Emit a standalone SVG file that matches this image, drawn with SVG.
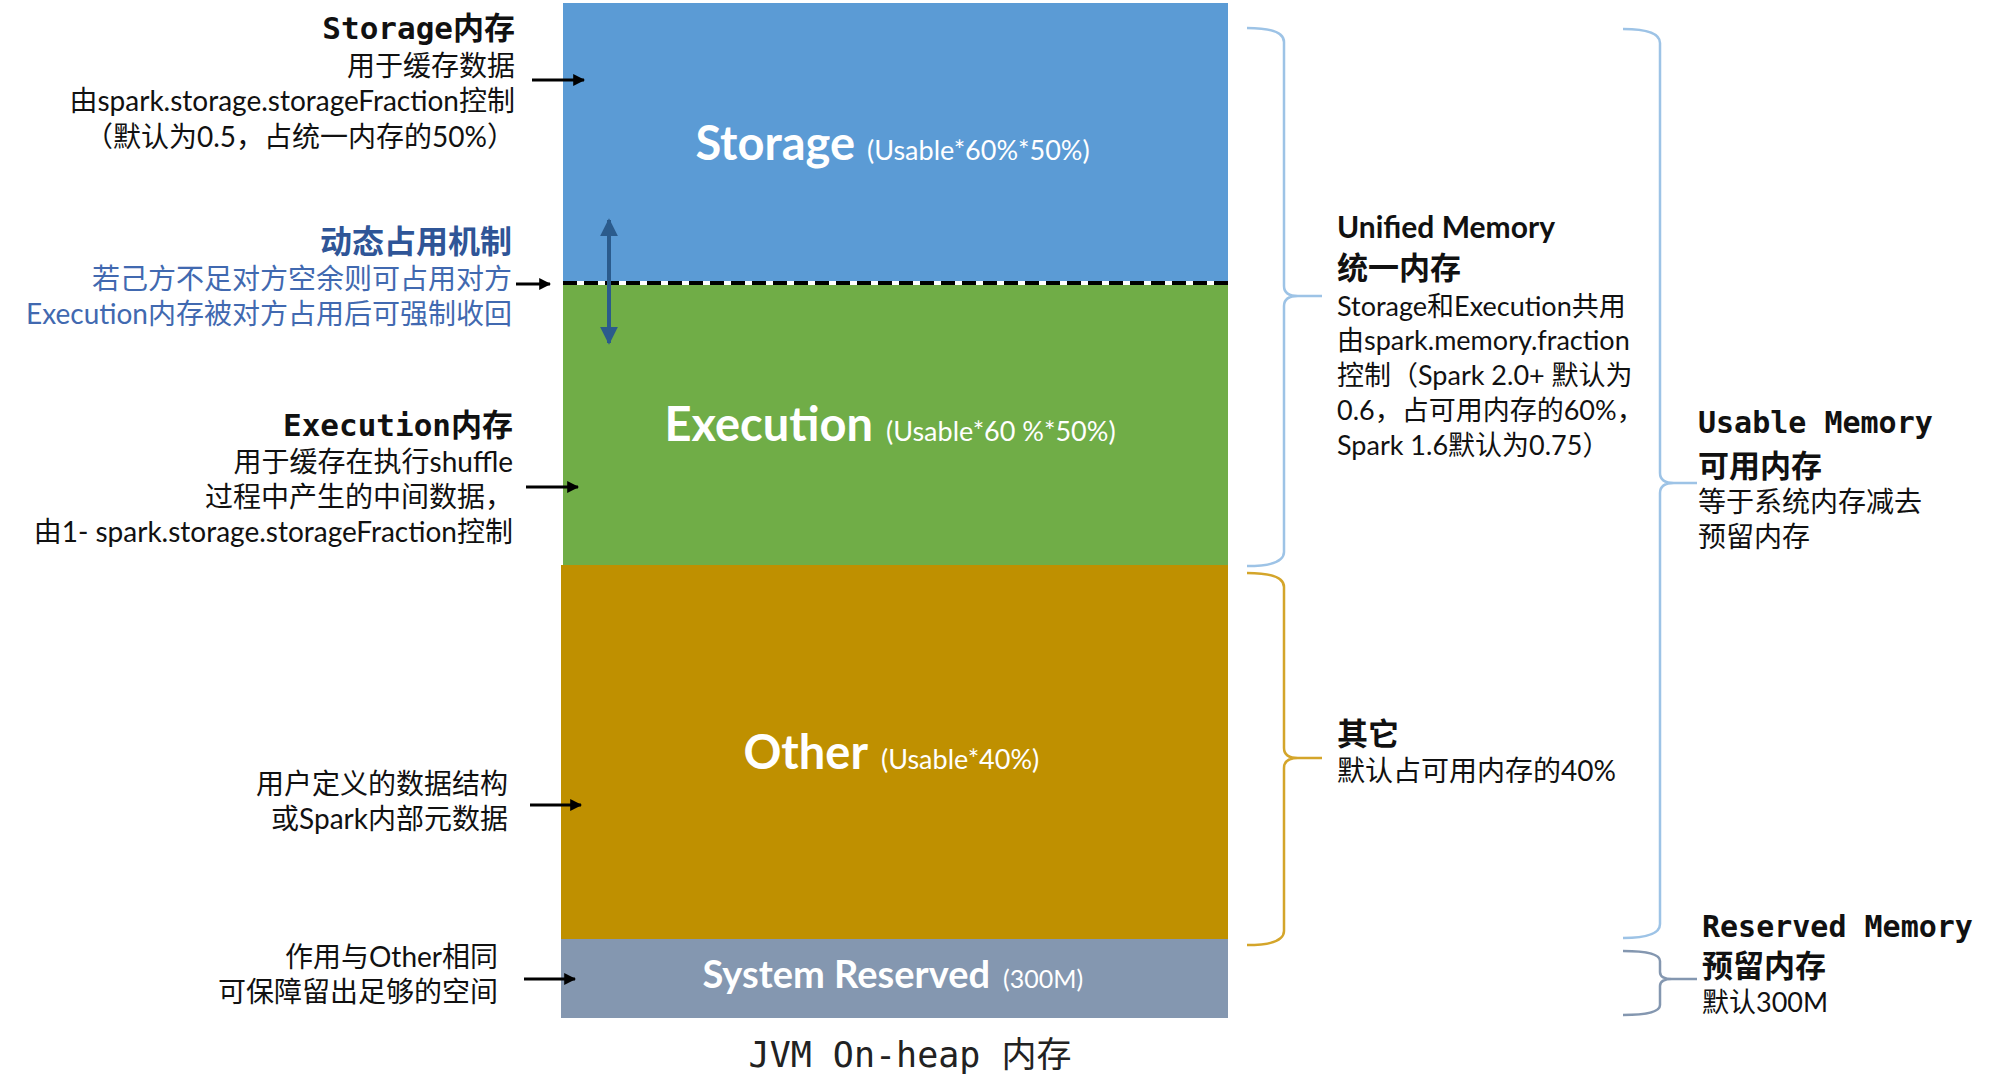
<svg xmlns="http://www.w3.org/2000/svg" width="2000" height="1082" viewBox="0 0 2000 1082">
<style>
.t{font-family:"Lato","Noto Sans CJK SC",sans-serif;font-size:28px;fill:#111}
.tr{font-family:"Lato","Noto Sans CJK SC",sans-serif;font-size:27px;fill:#111}
.b{font-weight:bold}
.mono{font-family:"DejaVu Sans Mono","Noto Sans CJK SC",monospace;font-weight:bold;font-size:30px;fill:#111}
.blue{fill:#4169B0}
.blueb{fill:#2F5597;font-weight:bold;font-size:32px}
.big{font-family:"Lato","Noto Sans CJK SC",sans-serif;font-weight:bold;font-size:47px;fill:#fff}
.small{font-family:"Lato","Noto Sans CJK SC",sans-serif;font-size:27px;fill:#fff}
.end{text-anchor:end}
.arrow{stroke:#000;stroke-width:3;fill:none;marker-end:url(#ah)}
.brace{fill:none;stroke-width:2.5}
</style>
<defs>
<marker id="ah" viewBox="0 0 10 10" refX="9" refY="5" markerWidth="4" markerHeight="4" orient="auto"><path d="M0,0 L10,5 L0,10 z" fill="#000"/></marker>
<marker id="dah" viewBox="0 0 10 10" refX="9" refY="5" markerWidth="4.5" markerHeight="4.5" orient="auto-start-reverse"><path d="M0,0 L10,5 L0,10 z" fill="#2B5B8C"/></marker>
</defs>
<rect width="2000" height="1082" fill="#fff"/>

<g id="storage">
<rect x="563" y="3" width="665" height="280" fill="#5B9BD5"/>
<text class="big end" x="855" y="160">Storage</text>
<text class="small" x="867" y="160">(Usable*60%*50%)</text>
</g>
<g id="execution">
<rect x="563" y="283" width="665" height="282" fill="#70AD47"/>
<text class="big end" x="873" y="441">Execution</text>
<text class="small" x="886" y="441">(Usable*60 %*50%)</text>
</g>
<g id="other">
<rect x="561" y="565" width="667" height="374" fill="#BF9000"/>
<text class="big end" x="868" y="769">Other</text>
<text class="small" x="881" y="769">(Usable*40%)</text>
</g>
<g id="system-reserved">
<rect x="561" y="939" width="667" height="79" fill="#8497B0"/>
<text class="big end" x="990" y="988" style="font-size:38px">System Reserved</text>
<text class="small" x="1003" y="988" style="font-size:25px">(300M)</text>
</g>
<g id="jvm-label">
<text x="910" y="1067" text-anchor="middle" style="font-family:'DejaVu Sans Mono','Noto Sans CJK SC',monospace;font-size:35px;fill:#222">JVM On-heap 内存</text>
</g>

<g id="boundary">
<line x1="563" y1="283" x2="1228" y2="283" stroke="#fff" stroke-width="4"/>
<line x1="563" y1="283" x2="1228" y2="283" stroke="#000" stroke-width="4" stroke-dasharray="14 7"/>
</g>

<g id="connectors">
<line class="arrow" x1="532" y1="80" x2="584" y2="80"/>
<line class="arrow" x1="516" y1="284" x2="550" y2="284"/>
<line class="arrow" x1="526" y1="487" x2="578" y2="487"/>
<line class="arrow" x1="530" y1="805" x2="581" y2="805"/>
<line class="arrow" x1="524" y1="979" x2="575" y2="979"/>
<line x1="609" y1="220" x2="609" y2="343" stroke="#2B5B8C" stroke-width="4" marker-start="url(#dah)" marker-end="url(#dah)"/>
</g>

<g id="storage-note">
<text class="mono end" x="515" y="39" style="font-size:31px">Storage内存</text>
<text class="t end" x="515" y="76">用于缓存数据</text>
<text class="t end" x="515" y="111">由spark.storage.storageFraction控制</text>
<text class="t end" x="515" y="147">（默认为0.5，占统一内存的50%）</text>
</g>
<g id="dynamic-note">
<text class="t blueb end" x="512" y="253">动态占用机制</text>
<text class="t blue end" x="512" y="289">若己方不足对方空余则可占用对方</text>
<text class="t blue end" x="512" y="324">Execution内存被对方占用后可强制收回</text>
</g>
<g id="execution-note">
<text class="mono end" x="513" y="436" style="font-size:31px">Execution内存</text>
<text class="t end" x="513" y="472">用于缓存在执行shuffle</text>
<text class="t end" x="513" y="507">过程中产生的中间数据，</text>
<text class="t end" x="513" y="542">由1- spark.storage.storageFraction控制</text>
</g>
<g id="other-note">
<text class="t end" x="508" y="794">用户定义的数据结构</text>
<text class="t end" x="508" y="829">或Spark内部元数据</text>
</g>
<g id="reserved-note">
<text class="t end" x="498" y="967">作用与Other相同</text>
<text class="t end" x="498" y="1002">可保障留出足够的空间</text>
</g>

<g id="braces">
<path class="brace" stroke="#9DC3E6" d="M1247,28 Q1284,28 1284,42 L1284,286 Q1284,296 1298,296 L1322,296 M1298,296 Q1284,296 1284,306 L1284,552 Q1284,566 1247,566"/>
<path class="brace" stroke="#D4A52A" d="M1247,573 Q1284,573 1284,587 L1284,748 Q1284,758 1298,758 L1322,758 M1298,758 Q1284,758 1284,768 L1284,931 Q1284,945 1247,945"/>
<path class="brace" stroke="#9DC3E6" d="M1623,29 Q1660,29 1660,43 L1660,473 Q1660,483 1674,483 L1697,483 M1674,483 Q1660,483 1660,493 L1660,924 Q1660,938 1623,938"/>
<path class="brace" stroke="#8497B0" d="M1623,951 Q1660,951 1660,961 L1660,972 Q1660,979 1672,979 L1697,979 M1672,979 Q1660,979 1660,986 L1660,1005 Q1660,1015 1623,1015"/>
</g>

<g id="unified-note">
<text class="tr b" x="1337" y="238" style="font-size:30px">Unified Memory</text>
<text class="tr b" x="1337" y="279" style="font-size:31px">统一内存</text>
<text class="tr" x="1337" y="316">Storage和Execution共用</text>
<text class="tr" x="1337" y="350">由spark.memory.fraction</text>
<text class="tr" x="1337" y="385">控制（Spark 2.0+ 默认为</text>
<text class="tr" x="1337" y="420">0.6，占可用内存的60%，</text>
<text class="tr" x="1337" y="455">Spark 1.6默认为0.75）</text>
</g>
<g id="other-brace-note">
<text class="tr b" x="1337" y="745" style="font-size:31px">其它</text>
<text class="tr" x="1337" y="781" style="font-size:28px">默认占可用内存的40%</text>
</g>
<g id="usable-note">
<text class="mono" x="1698" y="433">Usable Memory</text>
<text class="tr b" x="1698" y="477" style="font-size:31px">可用内存</text>
<text class="tr" x="1698" y="512" style="font-size:28px">等于系统内存减去</text>
<text class="tr" x="1698" y="547" style="font-size:28px">预留内存</text>
</g>
<g id="reserved-memory-note">
<text class="mono" x="1702" y="937">Reserved Memory</text>
<text class="tr b" x="1702" y="977" style="font-size:31px">预留内存</text>
<text class="tr" x="1702" y="1012">默认300M</text>
</g>
</svg>
